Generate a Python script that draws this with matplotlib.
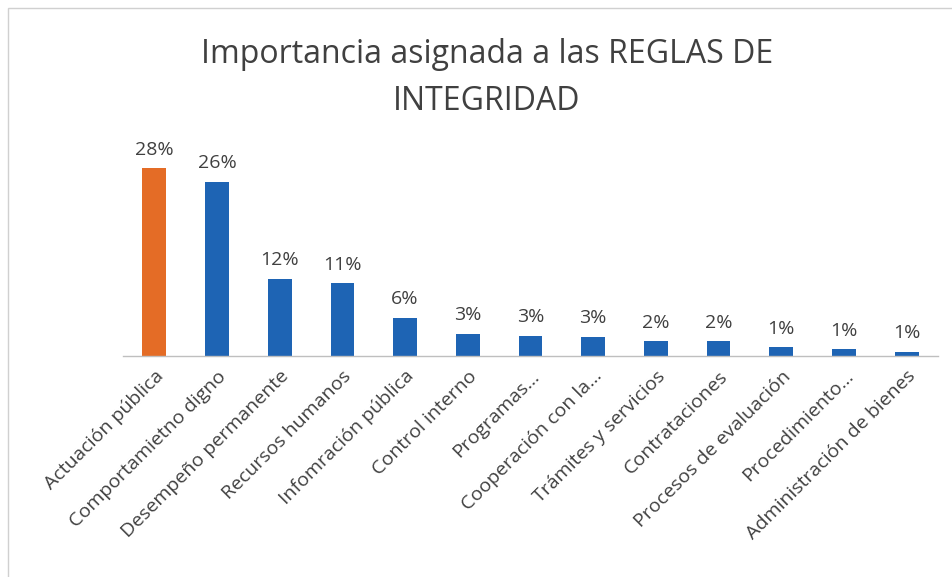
import matplotlib
matplotlib.use("Agg")
import matplotlib.pyplot as plt
from matplotlib.patches import Rectangle

categories = ["Actuación pública", "Comportamietno digno", "Desempeño permanente",
              "Recursos humanos", "Infomración pública", "Control interno",
              "Programas...", "Cooperación con la...", "Trámites y servicios",
              "Contrataciones", "Procesos de evaluación", "Procedimiento...",
              "Administración de bienes"]
values = [28.4, 26.4, 11.7, 11.0, 5.8, 3.3, 3.1, 2.9, 2.2, 2.2, 1.3, 1.0, 0.6]
highlight_index = 0
title = "Importancia asignada a las REGLAS DE\nINTEGRIDAD"

plt.rcParams['font.family'] = ['Open Sans', 'DejaVu Sans']
W, H = 953, 577
fig = plt.figure(figsize=(W / 100, H / 100), dpi=100)
ax = fig.add_axes([123 / W, 1 - 356 / H, (938 - 123) / W, (356 - 140) / H])

orange = "#E46C26"
blue = "#1E64B4"
colors = [orange if i == highlight_index else blue for i in range(len(values))]
x = list(range(len(values)))
bars = ax.bar(x, values, width=0.38, color=colors, zorder=2)
for xi, v in zip(x, values):
    ax.annotate(f"{round(v):d}%", (xi, v), xytext=(0, 7), textcoords="offset points",
                ha="center", va="bottom", fontsize=14, color="#404040")

ax.set_xlim(-0.5, len(values) - 0.5)
ax.set_ylim(0, 32.7)
ax.set_yticks([])
ax.set_xticks(x)
ax.set_xticklabels(categories, rotation=45, ha="right", rotation_mode="anchor",
                   fontsize=14, color="#404040")
ax.tick_params(axis="x", length=0, pad=8)
for s in ["top", "right", "left"]:
    ax.spines[s].set_visible(False)
ax.spines["bottom"].set_color("#BFBFBF")
ax.spines["bottom"].set_linewidth(1)

fig.text(487 / W, 1 - 78 / H, title, ha="center", va="center", fontsize=23,
         color="#404040", linespacing=1.55)

fig.patches.append(Rectangle((8 / W, -0.05), 1.1, 1 - 8 / H + 0.05, transform=fig.transFigure,
                             fill=False, edgecolor="#D0D0D0", linewidth=1))

fig.savefig("out.png", dpi=100, facecolor="white")
